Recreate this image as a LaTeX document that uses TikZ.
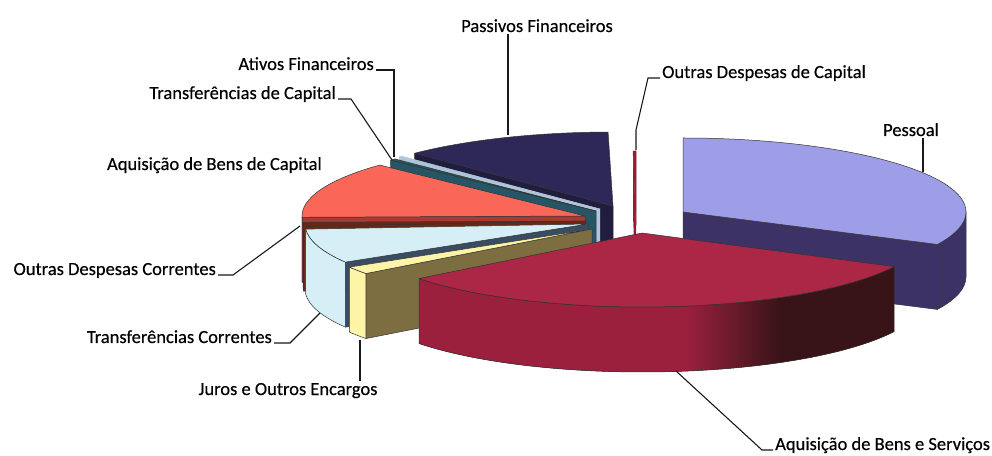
\documentclass[tikz,border=0pt]{standalone}
\usepackage{fontspec}
\setmainfont{Carlito}[FakeBold=0.4]
\definecolor{pessoalTop}{RGB}{158,158,232}
\definecolor{pessoalSide}{RGB}{60,50,102}
\definecolor{absTop}{RGB}{172,38,70}
\definecolor{absSide}{RGB}{155,32,62}
\definecolor{absDark}{RGB}{56,20,24}
\definecolor{jurosTop}{RGB}{253,244,168}
\definecolor{jurosSide}{RGB}{124,110,64}
\definecolor{tcTop}{RGB}{214,238,246}
\definecolor{tcSide}{RGB}{58,76,98}
\definecolor{odcTop}{RGB}{104,40,22}
\definecolor{abcTop}{RGB}{250,102,88}
\definecolor{abcSide}{RGB}{168,58,48}
\definecolor{tdcTop}{RGB}{38,86,102}
\definecolor{afTop}{RGB}{176,198,216}
\definecolor{pfTop}{RGB}{46,40,88}
\definecolor{pfSide}{RGB}{32,29,62}
\definecolor{odkTop}{RGB}{150,28,52}
\pgfdeclarehorizontalshading{absshade}{100bp}{color(0bp)=(absSide); color(53bp)=(absSide);
  color(63bp)=(absDark); color(100bp)=(absDark)}
\tikzset{
  pieedge/.style={draw=black!80, line width=0.5pt, line join=round},
  lbl/.style={font=\fontsize{18.5}{20}\selectfont, inner sep=2pt},
  leader/.style={line width=1.1pt, black!90}
}
\newcommand{\pieA}{283}
\newcommand{\pieB}{74}
\newcommand{\pieH}{65}
% wedge faces: apex x, apex y, angle(s), options
\newcommand{\wedgetop}[5]{%
  \filldraw[pieedge,#5] (#1,#2) -- ++(#3:{\pieA} and {\pieB})
    arc[start angle=#3, end angle=#4, x radius=\pieA, y radius=\pieB] -- cycle;}
\newcommand{\wedgeradial}[4]{%
  \filldraw[pieedge,#4] (#1,#2) -- ++(#3:{\pieA} and {\pieB}) -- ++(0,-\pieH)
    -- ++({180+#3}:{\pieA} and {\pieB}) -- cycle;}
\newcommand{\wedgeside}[5]{%
  \filldraw[pieedge,#5] (#1,#2) ++(#3:{\pieA} and {\pieB})
    arc[start angle=#3, end angle=#4, x radius=\pieA, y radius=\pieB] -- ++(0,-\pieH)
    arc[start angle=#4, end angle=#3, x radius=\pieA, y radius=\pieB] -- cycle;}
\begin{document}
\begin{tikzpicture}[x=1pt,y=1pt]
  \useasboundingbox (0,0) rectangle (992,455);
  % slices, back to front
  \wedgeradial{613}{249}{134.5}{fill=pfSide}
  \wedgetop{613}{249}{134.5}{91}{fill=pfTop}
  \wedgeradial{636}{230}{90.6}{fill=odkTop, draw=none}
  \wedgetop{636}{230}{90.6}{90}{fill=odkTop, draw=odkTop}
  \wedgeradial{600}{246}{135.3}{fill=afTop, draw=none}
  \wedgetop{600}{246}{135.3}{134.5}{fill=afTop, draw=afTop}
  \wedgeradial{596}{244}{136.5}{fill=tdcTop}
  \wedgetop{596}{244}{136.5}{135.3}{fill=tdcTop}
  \wedgeradial{585}{239}{181}{fill=abcSide}
  \wedgeside{585}{239}{181}{180}{fill=abcSide}
  \wedgetop{585}{239}{181}{136.5}{fill=abcTop}
  \wedgeradial{586}{234}{184}{fill=odcTop}
  \wedgeside{586}{234}{184}{181}{fill=pfSide}
  \wedgetop{586}{234}{184}{181}{fill=odcTop}
  \wedgeradial{588}{231}{211}{fill=tcSide}
  \wedgeside{588}{231}{211}{184}{fill=tcTop}
  \wedgetop{588}{231}{211}{184}{fill=tcTop}
  \wedgeradial{592}{226}{217}{fill=jurosSide}
  \wedgeside{592}{226}{217}{211}{fill=jurosTop}
  \wedgetop{592}{226}{217}{211}{fill=jurosTop}
  \wedgeradial{683}{243}{-26}{fill=pessoalSide}
  \wedgeside{683}{243}{0}{-26}{fill=pessoalSide}
  \wedgetop{683}{243}{90}{-26}{fill=pessoalTop}
  \wedgeside{642}{222}{333}{218}{shading=absshade}
  \wedgetop{642}{222}{333}{218}{fill=absTop}
  % labels
  \node[lbl, anchor=base] (lblPF) at (537,423) {Passivos Financeiros};
  \node[lbl, anchor=base east] (lblAF) at (376,385) {Ativos Financeiros};
  \node[lbl, anchor=base east] (lblTdC) at (338,356) {Transferências de Capital};
  \node[lbl, anchor=base east] (lblABC) at (324,285) {Aquisição de Bens de Capital};
  \node[lbl, anchor=base west] (lblODK) at (660,377) {Outras Despesas de Capital};
  \node[lbl, anchor=base] (lblP) at (911,319) {Pessoal};
  \node[lbl, anchor=base east] (lblODC) at (218,180) {Outras Despesas Correntes};
  \node[lbl, anchor=base east] (lblTC) at (274,112) {Transferências Correntes};
  \node[lbl, anchor=base] (lblJ) at (288,60) {Juros e Outros Encargos};
  \node[lbl, anchor=base west] (lblABS) at (773,5) {Aquisição de Bens e Serviços};
  % leaders
  \coordinate (pfTip) at (508,320);
  \coordinate (afTip) at (394,298);
  \coordinate (tdcTip) at (392,295);
  \coordinate (odkTip) at (636,305);
  \coordinate (pTip) at (923,283);
  \coordinate (odcTip) at (300,229);
  \coordinate (tcTip) at (320,142);
  \coordinate (jTip) at (360,115);
  \coordinate (absTip) at (676,84);
  \draw[leader] (pfTip) -- (pfTip |- lblPF.south);
  \draw[leader] (afTip) |- (lblAF.base east);
  \draw[leader] (tdcTip) -- (351,356) -- (lblTdC.base east);
  \draw[leader] (odkTip) -- (636,325) -- (648,377) -- (lblODK.base west);
  \draw[leader] (pTip) -- (pTip |- lblP.south);
  \draw[leader] (odcTip) -- (233,180) -- (lblODC.base east);
  \draw[leader] (tcTip) -- (290,112) -- (lblTC.base east);
  \draw[leader] (jTip) -- (jTip |- lblJ.north);
  \draw[leader] (absTip) -- (762,5) -- (lblABS.base west);
\end{tikzpicture}
\end{document}
